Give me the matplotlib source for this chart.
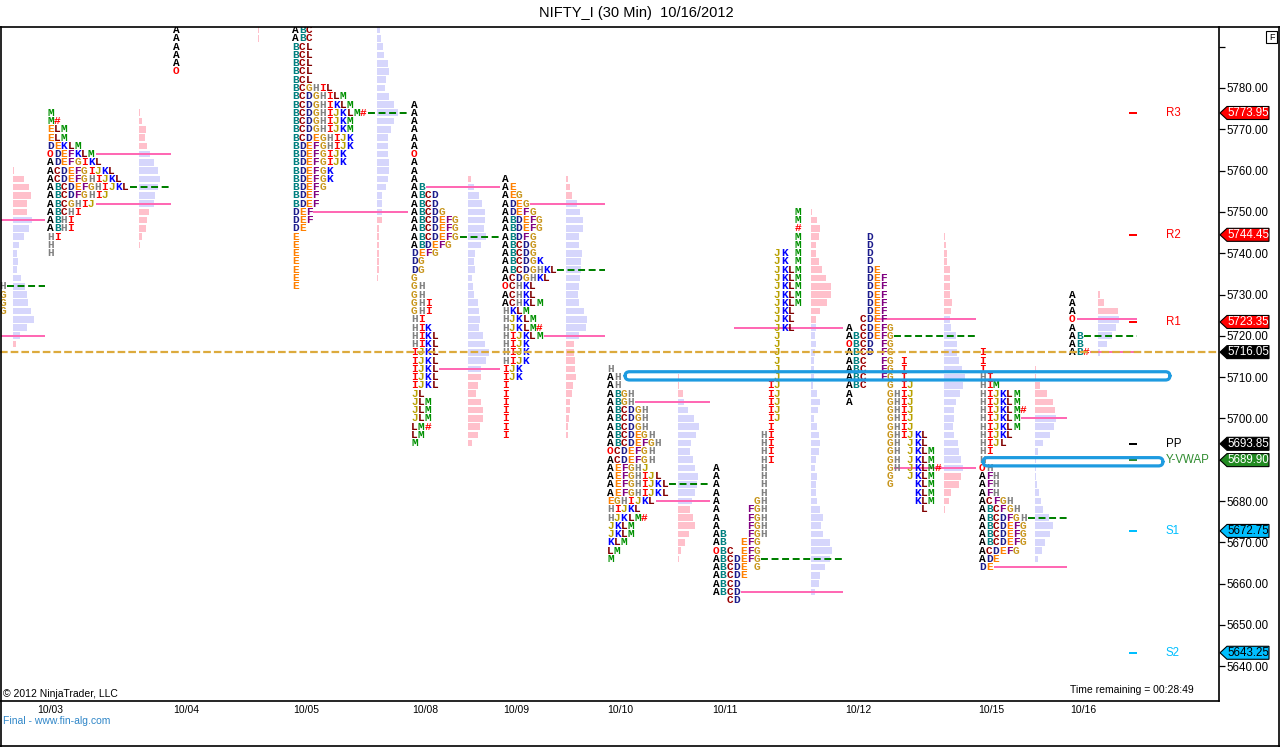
import matplotlib
matplotlib.use("Agg")
import matplotlib.pyplot as plt
from matplotlib.patches import FancyBboxPatch, Polygon, Rectangle
from matplotlib.lines import Line2D

plt.rcParams['font.family'] = ['Liberation Sans', 'DejaVu Sans']
plt.rcParams['lines.scale_dashes'] = False

# ------------------------------------------------------------------ data
TICK = 2.0
title = "NIFTY_I (30 Min)  10/16/2012"
date_labels = ["10/03", "10/04", "10/05", "10/08", "10/09", "10/10", "10/11", "10/12", "10/15", "10/16"]

# TPO letter rows (top row price, rows going down by TICK)
prev_top = 5732
prev_rows = ["H", "G", "G", "G"]

s1003_top = 5774
s1003_rows = ["M", "M#", "ELM", "ELM", "DEKLM", "ODEFKLM", "ADEFGIKL", "ACDEFGIJKL", "ACDEFGHIJKL",
              "ABCDEFGHIJKL", "ABCDFGHIJ", "ABCGHIJ", "ABCHI", "ABHI", "ABHI", "HI", "H", "H"]

s1004_top = 5794
s1004_rows = ["A", "A", "A", "A", "A", "O"]

s1005_top = 5794
s1005_rows = ["ABC", "ABC", "BCL", "BCL", "BCL", "BCL", "BCL", "BCGHIL", "BCDGHILM", "BCDGHIKLM",
              "BCDGHIJKLM#", "BCDGHIJKM", "BCDGHIJKM", "BCDEGHIJK", "BDEFGHIJK", "BDEFGIJK", "BDEFGIJK",
              "BDEFGK", "BDEFGK", "BDEFG", "BDEF", "BDEF", "DEF", "DEF", "DE",
              "E", "E", "E", "E", "E", "E", "E"]

s1008_top = 5776
s1008_rows = ["A", "A", "A", "A", "A", "A", "O", "A", "A", "A", "AB", "ABCD", "ABCD", "ABCDG",
              "ABCDEFG", "ABCDEFG", "ABCDEFG", "ABDEFG", "DEFG", "DG", "DG", "G", "GH", "GH", "GHI", "GHI",
              "HI", "HIK", "HIKL", "HIKL", "IJKL", "IJKL", "IJKL", "IJKL", "IJKL", "JL", "JLM", "JLM", "JLM",
              "LM#", "LM", "M"]

s1009_top = 5758
s1009_rows = ["A", "AE", "AEG", "ADEG", "ADEFG", "ABDEFG", "ABDEFG", "ABDFG", "ABCDG", "ABCDG", "ABCDGK",
              "ABCDGHKL", "ACDGHKL", "OCHKL", "ACHKL", "ACHKLM", "HKLM", "HJKLM", "HJKLM#", "HIJKLM",
              "HIJK", "HIJK", "HIJK", "IJK", "IJK", "I", "I", "I", "I", "I", "I", "I"]

s1010_top = 5712
s1010_rows = ["H", "AH", "AH", "ABGH", "ABGH", "ABCDGH", "ABCDGH", "ABCDGH", "ABCDEGH", "ABCDEFGH",
              "OCDEFGH", "ACDEFGH", "AEFGHJ", "AEFGHIJL", "AEFGHIJKL", "AEFGHIJKL", "EGHIJKL", "HIJKL",
              "HJKLM#", "JKLM", "JKLM", "KLM", "LM", "M"]

s1011_top = 5750
s1011_rows = ["            M", "            M", "            #", "            M", "            M",
              "         JK M", "         JK M",
              "         JKLM", "         JKLM", "         JKLM", "         JKLM", "         JKLM",
              "         JKL", "         JKL", "         JKL",
              "         J", "         J", "         J", "         J", "         J", "         J",
              "        IJ", "        IJ", "        IJ", "        IJ", "        IJ", "        I",
              "       HI", "       HI", "       HI", "       HI",
              "A      H", "A      H", "A      H", "A      H", "A     GH",
              "A    FGH", "A    FGH", "A    FGH", "AB   FGH", "AB  EFG", "OBC EFG", "ABCDEFG",
              "ABCDE G", "ABCDE", "ABCD", "ABCD", "  CD"]

s1012_top = 5744
s1012_rows = ["   D", "   D", "   D", "   D", "   DE", "   DEF", "   DEF", "   DEF", "   DEF", "   DEF",
              "  CDEF", "A CDEFG", "ABCDEFG", "OBCD FG", "ABCD FG", "ABC  FG I", "ABC  FG I", "ABC  FG I",
              "ABC   G IJ", "A     GHIJ", "A     GHIJ", "      GHIJ", "      GHIJ", "      GHIJ",
              "      GHIJKL", "      GH JKL", "      GH JKLM", "      GH JKLM", "      GH JKLM#",
              "      G  JKLM", "      G   KLM", "          KLM", "          KLM", "           L"]

s1015_top = 5716
s1015_rows = ["I", "I", "I", "HI", "HIM", "HIJKLM", "HIJKLM", "HIJKLM#", "HIJKLM", "HIJKLM", "HIJKL",
              "HIJL", "HI", "H", "OH", "AFH", "AFH", "AFH", "ACFGH", "ABCFGH", "ABCDFGH", "ABCDEFG",
              "ABCDEFG", "ABCDEFG", "ACDEFG", "ADE", "DE"]

s1016_top = 5730
s1016_rows = ["A", "A", "A", "O", "A", "AB", "AB", "AB#"]

# volume histograms (top price, bar lengths)
prev_hist_top = 5760
prev_hist = [1, 11, 16, 18, 14, 14, 19, 16, 11, 6, 4, 5, 4, 8, 12, 14, 15, 18, 21, 14, 7, 3]
h1003_top = 5774
h1003 = [1, 3, 7, 6, 8, 11, 15, 19, 21, 19, 16, 15, 10, 8, 7, 3, 1]
h1004_top = 5794
h1004 = [1, 1]
h1005_top = 5794
h1005 = [3, 4, 6, 7, 11, 12, 9, 8, 12, 17, 21, 17, 14, 11, 11, 11, 12, 12, 11, 9, 5, 5, 5, 5,
         2, 2, 2, 2, 2, 2, 1]
h1008_top = 5758
h1008 = [3, 6, 11, 14, 17, 17, 16, 18, 13, 7, 6, 7, 4, 5, 6, 10, 11, 12, 11, 15, 17, 21, 18, 13, 13,
         10, 8, 13, 15, 15, 12, 10, 4]
h1009_top = 5758
h1009 = [2, 4, 6, 11, 14, 17, 17, 13, 13, 16, 15, 15, 14, 13, 12, 13, 18, 21, 20, 13, 8, 8, 9, 9, 10,
         7, 6, 4, 4, 3, 2, 2]
h1010_top = 5710
h1010 = [1, 1, 5, 6, 10, 16, 21, 18, 13, 12, 15, 17, 20, 19, 17, 14, 12, 15, 17, 11, 7, 3, 1]
h1011_top = 5750
h1011 = [1, 6, 9, 8, 5, 5, 8, 11, 15, 20, 20, 16, 9, 5, 5, 4, 5, 4, 3, 3, 3, 2, 6, 9, 7, 3, 6, 8, 9,
         8, 5, 4, 6, 5, 5, 6, 9, 12, 10, 12, 19, 21, 19, 14, 9, 8, 4]
h1012_top = 5744
h1012 = [1, 2, 3, 3, 6, 6, 6, 6, 8, 7, 6, 7, 12, 13, 13, 15, 18, 21, 19, 16, 12, 10, 10, 9, 10, 14,
         15, 17, 19, 17, 15, 7, 5, 1]
h1015_top = 5712
h1015 = [1, 1, 5, 12, 18, 20, 21, 19, 15, 8, 3, 1, 1, 1, 2, 4, 6, 8, 14, 18, 15, 10, 7, 3]
h1016_top = 5730
h1016 = [2, 6, 20, 21, 18, 14, 9, 2]

# value area high / low and point of control per profile (None = not shown)
va_high = [5748, 5764, None, 5800, 5756, 5752, 5704, 5722, 5724, 5700, 5724]
va_low = [5720, 5752, None, 5750, 5712, 5720, 5680, 5658, 5688, 5664, 5716]
poc = [5732, 5756, None, 5774, 5744, 5736, 5684, 5666, 5720, 5676, 5720]

pivot_names = ["R3", "R2", "R1", "PP", "Y-VWAP", "S1", "S2"]
pivot_values = [5773.95, 5744.45, 5723.35, 5693.85, 5689.90, 5672.75, 5643.25]
last_price = 5716.05
zone_prices = [5710.3, 5689.5]

# ------------------------------------------------------------------ layout / style
W, H = 1280, 747
CW = 6.8  # letter column width (px)
profile_x = [-0.5, 47, 173, 292, 411, 502, 607, 712.7, 845.7, 979, 1069]
hist_x = [13, 139, 258, 377, 468, 566, 678, 811, 944, 1035, 1098]
line_end = [45, 171, 171, 408, 500, 605, 710, 843, 976, 1067, 1137]
date_x = [50, 186, 306, 425, 516, 620, 725, 858, 991, 1083]
zone_x0 = [625, 983]
zone_x1 = [1170, 1163]

LETTER_COLORS = {
    'A': '#000000', 'B': '#008080', 'C': '#990000', 'D': '#1c1c8c', 'E': '#ff8000',
    'F': '#800080', 'G': '#c8961e', 'H': '#808080', 'I': '#ff0000', 'J': '#b8a000',
    'K': '#0000ff', 'L': '#800000', 'M': '#009000', 'O': '#ff0000', '#': '#ff0000',
}
PINK = '#ffc0cb'
LAV = '#d6d6fc'
VA_COLOR = '#ff69b4'
POC_COLOR = '#008000'
pivot_colors = ['#ff0000', '#ff0000', '#ff0000', '#000000', '#2e8b2e', '#00bfff', '#00bfff']
tag_face = ['#ff0000', '#ff0000', '#ff0000', '#000000', '#228b22', '#00bfff', '#00bfff']
tag_text = ['white', 'white', 'white', 'white', 'white', 'black', 'black']

all_rows = [prev_rows, s1003_rows, s1004_rows, s1005_rows, s1008_rows, s1009_rows, s1010_rows,
            s1011_rows, s1012_rows, s1015_rows, s1016_rows]
all_tops = [prev_top, s1003_top, s1004_top, s1005_top, s1008_top, s1009_top, s1010_top,
            s1011_top, s1012_top, s1015_top, s1016_top]
all_hist = [prev_hist, h1003, h1004, h1005, h1008, h1009, h1010, h1011, h1012, h1015, h1016]
all_htop = [prev_hist_top, h1003_top, h1004_top, h1005_top, h1008_top, h1009_top, h1010_top,
            h1011_top, h1012_top, h1015_top, h1016_top]

# ------------------------------------------------------------------ figure
fig = plt.figure(figsize=(W / 100, H / 100), dpi=100)
fig.patch.set_facecolor('white')
PLOT_R, PLOT_T, PLOT_B = 1219, 27, 701
ax = fig.add_axes([0, (H - PLOT_B) / H, PLOT_R / W, (PLOT_B - PLOT_T) / H])
PX_PER_PT = 4.13
y_top = 5780 + (88 - PLOT_T) / PX_PER_PT
y_bot = 5780 - (PLOT_B - 88) / PX_PER_PT
ax.set_xlim(0, PLOT_R)
ax.set_ylim(y_bot, y_top)
ax.set_facecolor('white')
for s in ['left', 'top']:
    ax.spines[s].set_visible(False)
ax.spines['bottom'].set_linewidth(1.2)
ax.spines['right'].set_linewidth(1.2)
ax.set_xticks([])
ax.yaxis.tick_right()
yt = list(range(5640, 5791, 10))
ax.set_yticks(yt)
ax.set_yticklabels([f"{v:.2f}" if v < 5790 else "" for v in yt])
ax.tick_params(axis='y', direction='out', length=4.3, width=0.9, pad=1, labelsize=8.3, colors='black')

LW2 = 2 * 72 / 100  # 2 px in points


def n_letters(row):
    return sum(1 for c in row if c != ' ')


for k in range(len(all_rows)):
    rows, top, x0 = all_rows[k], all_tops[k], profile_x[k]
    # histogram
    widths = all_hist[k]
    prices = [all_htop[k] - i * TICK for i in range(len(widths))]
    cols = []
    for p in prices:
        if va_high[k] is not None and va_low[k] - 0.1 <= p <= va_high[k] + 0.1:
            cols.append(LAV)
        else:
            cols.append(PINK)
    ax.barh(prices, widths, left=hist_x[k], height=1.6, color=cols, linewidth=0, zorder=2)
    # letters
    for i, row in enumerate(rows):
        p = top - i * TICK
        for j, ch in enumerate(row):
            if ch == ' ':
                continue
            ax.text(x0 + j * CW + CW / 2, p, ch, color=LETTER_COLORS[ch], fontsize=8,
                    family='Liberation Mono', weight='bold', ha='center', va='center',
                    zorder=4, clip_on=True)
    # value area + poc lines
    for level, col, dash in [(va_high[k], VA_COLOR, None), (va_low[k], VA_COLOR, None),
                             (poc[k], POC_COLOR, (5, 2.6))]:
        if level is None:
            continue
        idx = int(round((top - level) / TICK))
        start = x0 + (n_letters(rows[idx]) * CW if 0 <= idx < len(rows) else 0) + 1
        ln = ax.plot([start, line_end[k]], [level, level], color=col, lw=LW2, zorder=3,
                     solid_capstyle='butt')[0]
        if dash:
            ln.set_dashes(dash)

# last price line
ax.axhline(last_price, color='#dcaa3c', lw=1.6, dashes=(5.5, 2.2), zorder=5)

# highlighted zones
for x0, x1, p in zip(zone_x0, zone_x1, zone_prices):
    hh = 1.0
    box = FancyBboxPatch((x0, p - hh), x1 - x0, 2 * hh,
                         boxstyle="round,pad=0,rounding_size=4.5",
                         mutation_aspect=1 / PX_PER_PT, fill=False,
                         edgecolor='#1e9be0', linewidth=2.3, zorder=6)
    ax.add_patch(box)

# pivots
for name, val, col in zip(pivot_names, pivot_values, pivot_colors):
    ax.plot([1129, 1137], [val, val], color=col, lw=LW2, zorder=5, solid_capstyle='butt')
    ax.text(1166, val, name, color=col, fontsize=8.3, ha='left', va='center', zorder=5)

# price tags on right axis
hh = 6.5 / PX_PER_PT
tag_vals = pivot_values[:4] + [pivot_values[4]] + pivot_values[5:] + [last_price]
tag_faces = tag_face + ['#000000']
tag_texts = tag_text + ['white']
for v, fc, tc in zip(tag_vals, tag_faces, tag_texts):
    poly = Polygon([(1220, v), (1227, v + hh), (1269, v + hh), (1269, v - hh), (1227, v - hh)],
                   closed=True, facecolor=fc, edgecolor='black', linewidth=0.8,
                   clip_on=False, zorder=10)
    ax.add_patch(poly)
    ax.text(1248.5, v, f"{v:.2f}", color=tc, fontsize=8.3, ha='center', va='center',
            clip_on=False, zorder=11)


# ------------------------------------------------------------------ frame and texts
def fline(x0, y0, x1, y1, lw=1.2):
    fig.add_artist(Line2D([x0 / W, x1 / W], [1 - y0 / H, 1 - y1 / H], transform=fig.transFigure,
                          color='black', lw=lw))


fline(0, 27, W, 27)
fline(0.6, 27, 0.6, H)
fline(W - 0.8, 27, W - 0.8, H)
fline(0, H - 0.8, W, H - 0.8)

fig.add_artist(Rectangle((1266 / W, 1 - 43 / H), 11 / W, 12 / H, transform=fig.transFigure,
                         fill=False, edgecolor='black', lw=0.8))
fig.text(1271.5 / W, 1 - 37 / H, "F", fontsize=6.5, ha='center', va='center')

fig.text(636 / W, 1 - 13 / H, title, fontsize=10.5, ha='center', va='center')
for lab, x in zip(date_labels, date_x):
    fig.text(x / W, 1 - 710 / H, lab, fontsize=7.5, ha='center', va='center')
fig.text(3 / W, 1 - 694 / H, "\u00a9 2012 NinjaTrader, LLC", fontsize=7.5, ha='left', va='center')
fig.text(3 / W, 1 - 721 / H, "Final - www.fin-alg.com", fontsize=7.5, ha='left', va='center',
         color='#2f86c8')
fig.text(1070 / W, 1 - 690 / H, "Time remaining = 00:28:49", fontsize=7.5, ha='left', va='center')

fig.savefig("out.png", dpi=100, facecolor='white')
